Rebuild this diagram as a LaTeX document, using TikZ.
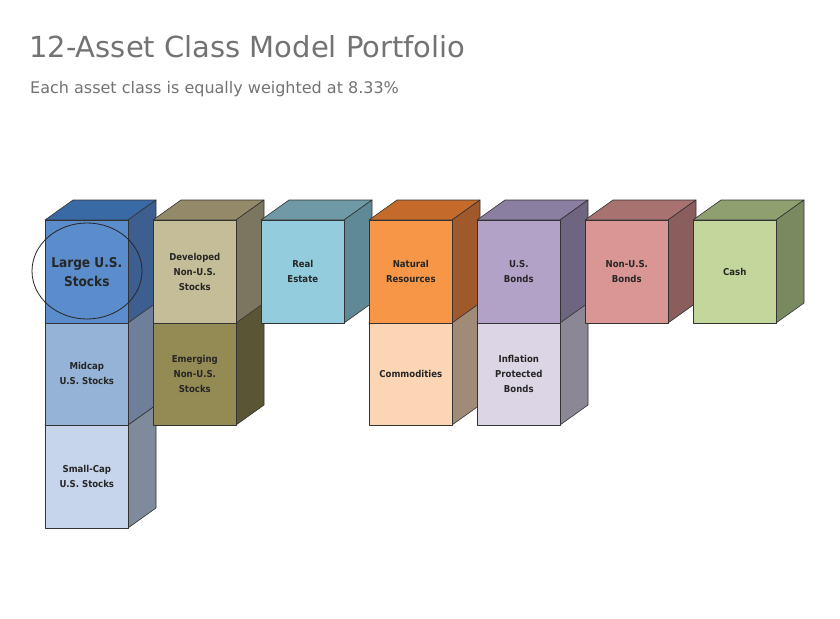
\documentclass[tikz,border=0pt]{standalone}
\usepackage{fontspec}
\setmainfont{DejaVu Sans}
\newfontfamily\lab{DejaVu Sans Condensed}
\begin{document}
\begin{tikzpicture}[x=1pt,y=-1pt,line join=round]
\useasboundingbox[fill=white] (0,0) rectangle (840,618);
\def\W{83}\def\H{103}\def\dx{28}\def\dy{20}
\newcommand\cube[7]{% #1 name, #2 x, #3 y, #4 front, #5 side, #6 top, #7 text
 \fill[#6,draw=black!80,line width=0.6pt] (#2,#3) -- ++(\dx,-\dy) -- ++(\W,0) -- ++(-\dx,\dy) -- cycle;
 \fill[#5,draw=black!80,line width=0.6pt] (#2+\W,#3) -- ++(\dx,-\dy) -- ++(0,\H) -- ++(-\dx,\dy) -- cycle;
 \node[#4,fill=#4,draw=black!80,line width=0.6pt,minimum width=\W,minimum height=\H,anchor=north west,inner sep=0pt,text=black] (#1) at (#2,#3) {};
 \node[align=center,font=\lab\bfseries\fontsize{9.5}{15}\selectfont,text=black!85] at (#1.center) {#7};}
\definecolor{a1t}{HTML}{3A6AA6}\definecolor{a1f}{HTML}{5B8CCC}\definecolor{a1s}{HTML}{3D5F8F}
\definecolor{a2f}{HTML}{95B3D7}\definecolor{a2s}{HTML}{6F7F99}
\definecolor{a3f}{HTML}{C6D5EC}\definecolor{a3s}{HTML}{7F8B9A}
\definecolor{b1t}{HTML}{948A6A}\definecolor{b1f}{HTML}{C4BD97}\definecolor{b1s}{HTML}{7A7660}
\definecolor{b2f}{HTML}{948A54}\definecolor{b2s}{HTML}{5A5535}
\definecolor{c1t}{HTML}{6F9AA5}\definecolor{c1f}{HTML}{93CDDD}\definecolor{c1s}{HTML}{5F8A95}
\definecolor{d1t}{HTML}{C46A2A}\definecolor{d1f}{HTML}{F79646}\definecolor{d1s}{HTML}{A0592A}
\definecolor{d2f}{HTML}{FCD5B5}\definecolor{d2s}{HTML}{A08A78}
\definecolor{e1t}{HTML}{8A7FA0}\definecolor{e1f}{HTML}{B3A2C7}\definecolor{e1s}{HTML}{6E6580}
\definecolor{e2f}{HTML}{DCD5E6}\definecolor{e2s}{HTML}{8B8794}
\definecolor{f1t}{HTML}{A87270}\definecolor{f1f}{HTML}{D99694}\definecolor{f1s}{HTML}{8A5E5C}
\definecolor{g1t}{HTML}{8FA070}\definecolor{g1f}{HTML}{C3D69B}\definecolor{g1s}{HTML}{7A8A60}
\node[anchor=west,text=black!55,font=\fontsize{29}{34}\selectfont,inner sep=0pt] (title) at (29,47) {12-Asset Class Model Portfolio};
\node[anchor=west,text=black!55,font=\fontsize{16}{20}\selectfont,inner sep=0pt] (sub) at (30,89) {Each asset class is equally weighted at 8.33\%};
\cube{sc}{45}{425}{a3f}{a3s}{a3f}{Small-Cap\\U.S. Stocks}
\cube{mc}{45}{322}{a2f}{a2s}{a2f}{Midcap\\U.S. Stocks}
\cube{em}{153}{322}{b2f}{b2s}{b2f}{Emerging\\Non-U.S.\\Stocks}
\cube{co}{369}{322}{d2f}{d2s}{d2f}{Commodities}
\cube{ip}{477}{322}{e2f}{e2s}{e2f}{Inflation\\Protected\\Bonds}
\cube{lg}{45}{220}{a1f}{a1s}{a1t}{}
\node[align=center,font=\lab\bfseries\fontsize{13.5}{19}\selectfont,text=black!85] at (lg.center) {Large U.S.\\Stocks};
\cube{dv}{153}{220}{b1f}{b1s}{b1t}{Developed\\Non-U.S.\\Stocks}
\cube{re}{261}{220}{c1f}{c1s}{c1t}{Real\\Estate}
\cube{nr}{369}{220}{d1f}{d1s}{d1t}{Natural\\Resources}
\cube{ub}{477}{220}{e1f}{e1s}{e1t}{U.S.\\Bonds}
\cube{nb}{585}{220}{f1f}{f1s}{f1t}{Non-U.S.\\Bonds}
\cube{ca}{693}{220}{g1f}{g1s}{g1t}{Cash}
\draw[black!85,line width=0.8pt] (87,271) ellipse [x radius=55,y radius=48];
\end{tikzpicture}
\end{document}
